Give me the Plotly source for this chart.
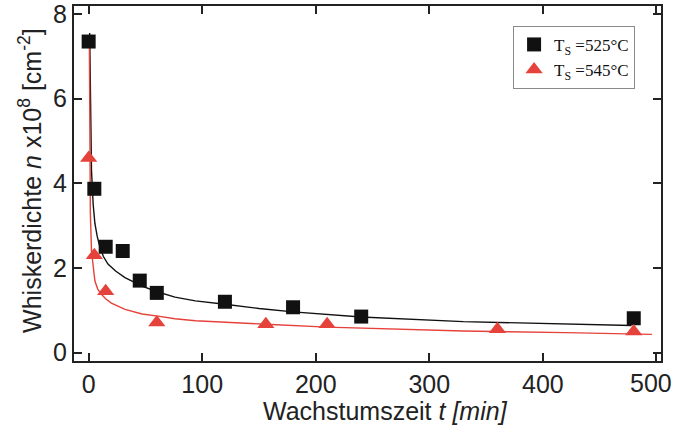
import plotly.graph_objects as go

# Measured data
t_525 = [0, 5, 15, 30, 45, 60, 120, 180, 240, 480]
n_525 = [7.35, 3.87, 2.50, 2.40, 1.70, 1.41, 1.20, 1.07, 0.85, 0.81]

t_545 = [0, 5, 15, 60, 156, 210, 360, 480]
n_545 = [4.60, 2.30, 1.45, 0.71, 0.67, 0.67, 0.55, 0.50]

# Fit curves
fit_t_525 = [0.9, 1.5, 2.5, 4, 5.5, 7.5, 10, 13, 17, 24, 32, 47, 61, 76, 94, 120, 150, 180, 240, 330, 400, 478]
fit_n_525 = [7.55, 5.6, 4.3, 3.5, 3.05, 2.75, 2.48, 2.27, 2.09, 1.92, 1.77, 1.57, 1.43, 1.31, 1.22, 1.14, 1.04, 0.96, 0.84, 0.73, 0.68, 0.64]

fit_t_545 = [0.6, 1.0, 1.5, 2.5, 4, 5.5, 8, 11.4, 15, 20, 32, 47, 61, 76, 94, 120, 156, 210, 270, 330, 420, 496]
fit_n_545 = [7.5, 4.6, 3.3, 2.4, 2.0, 1.69, 1.5, 1.37, 1.27, 1.17, 1.02, 0.91, 0.86, 0.80, 0.75, 0.71, 0.67, 0.60, 0.55, 0.51, 0.47, 0.43]

x_ticks = [0, 100, 200, 300, 400, 500]
x_tick_labels = ["0", "100", "200", "300", "400", "500"]
y_ticks = [0, 2, 4, 6, 8]

RED = "#e5423b"
BLACK = "#111111"
AX = "#222222"
TICKFONT = dict(family="Liberation Sans, Arial", size=25, color=AX)

fig = go.Figure()
fig.add_trace(go.Scatter(x=fit_t_525, y=fit_n_525, mode="lines",
                         line=dict(color=BLACK, width=1.4), showlegend=False))
fig.add_trace(go.Scatter(x=fit_t_545, y=fit_n_545, mode="lines",
                         line=dict(color=RED, width=1.4), showlegend=False))
fig.add_trace(go.Scatter(x=t_525, y=n_525, mode="markers", name="T<sub>S</sub> =525°C",
                         marker=dict(symbol="square", size=14, color=BLACK)))
fig.add_trace(go.Scatter(x=t_545, y=n_545, mode="markers", name="T<sub>S</sub> =545°C",
                         marker=dict(symbol="triangle-up", size=15, color=RED)))

axis_common = dict(showgrid=False, zeroline=False, showline=True, linecolor=AX, linewidth=2,
                   ticks="inside", ticklen=8, tickwidth=2, tickcolor=AX, mirror="ticks",
                   automargin=False, ticklabeloverflow="allow", tickfont=TICKFONT)

# last x label sits at the right edge of the figure: drawn as an edge-anchored annotation
fig.update_xaxes(range=[-12.9, 504], tickvals=x_ticks,
                 ticktext=x_tick_labels[:-1] + [""], **axis_common)
fig.update_yaxes(range=[-0.2, 8.19], tickvals=y_ticks, **axis_common)

fig.update_layout(
    width=675, height=441,
    margin=dict(l=74, r=14, t=6, b=80),
    plot_bgcolor="white", paper_bgcolor="white",
    legend=dict(x=0.748, y=0.944, xanchor="left", yanchor="top",
                bordercolor="#8a8a8a", borderwidth=1, bgcolor="white",
                font=dict(family="Liberation Serif, Times New Roman", size=17, color=BLACK),
                itemwidth=30, tracegroupgap=0),
    annotations=[
        dict(text=x_tick_labels[-1], xref="paper", yref="paper",
             x=(674 - 74) / 587, y=-0.062, xanchor="right", yanchor="middle", showarrow=False,
             font=TICKFONT),
        dict(text="Wachstumszeit <i>t [min]</i>", xref="paper", yref="paper",
             x=0.53, y=-0.141, xanchor="center", yanchor="middle", showarrow=False,
             font=dict(family="Liberation Sans, Arial", size=25, color=AX)),
        dict(text="Whiskerdichte <i>n</i> x10<sup>8</sup> [cm<sup>-2</sup>]", xref="paper", yref="paper",
             x=-0.075, y=0.51, xanchor="center", yanchor="middle", showarrow=False, textangle=-90,
             font=dict(family="Liberation Sans, Arial", size=25, color=AX)),
    ],
)

fig.write_html("out.html", config={"displayModeBar": False},
               post_script="document.body.style.margin='0';document.body.style.overflow='hidden';")
